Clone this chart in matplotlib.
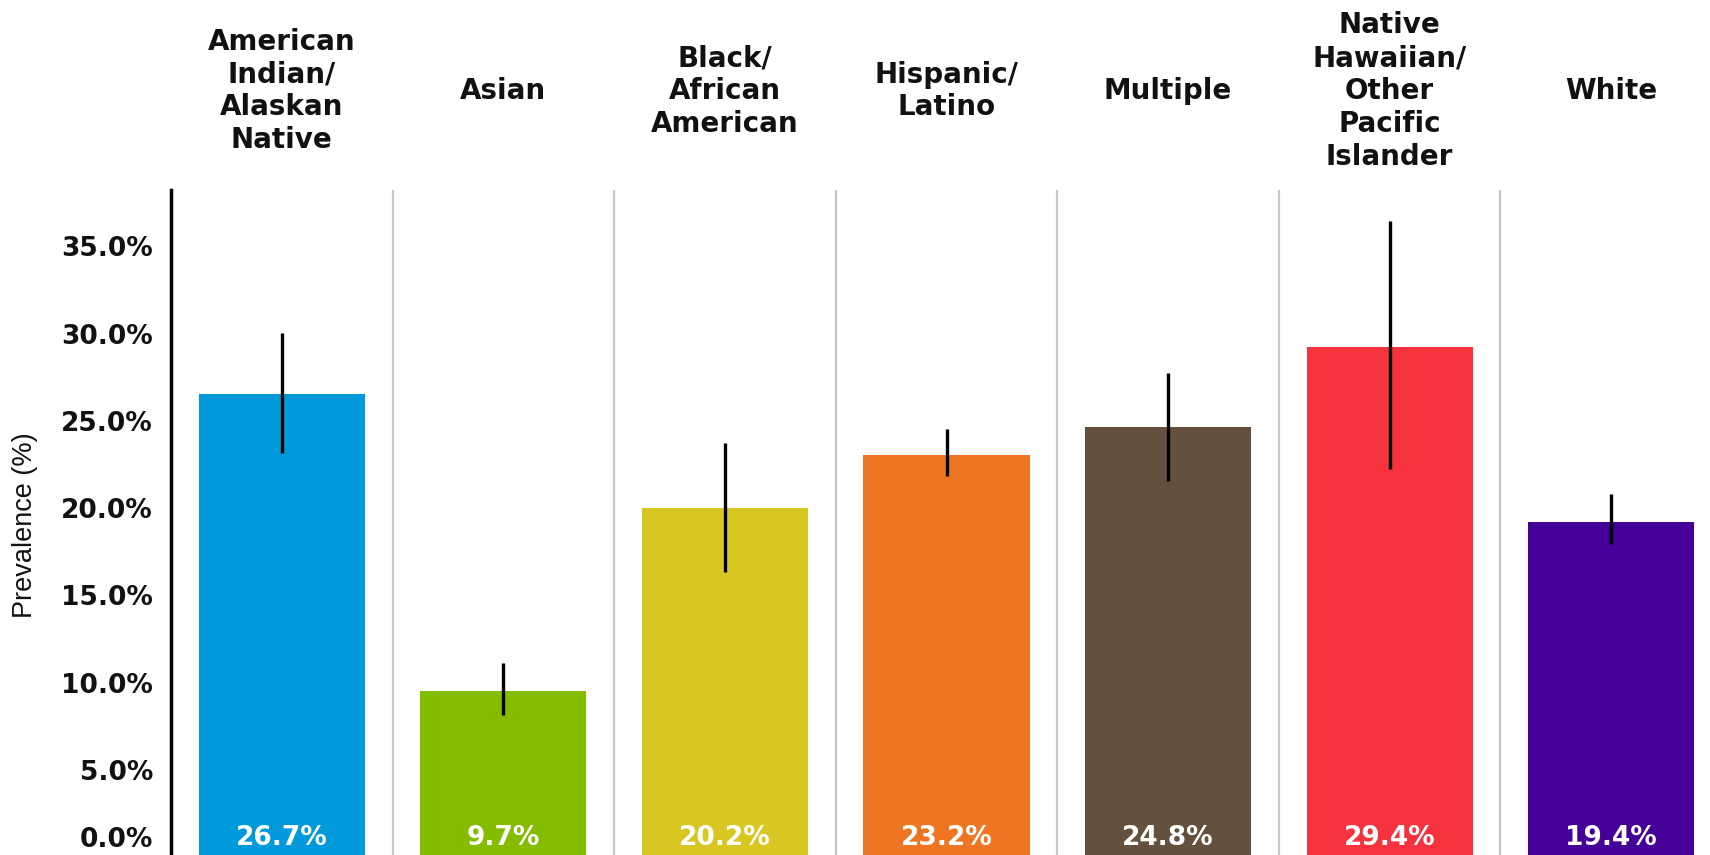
import matplotlib
matplotlib.use("Agg")
import matplotlib.pyplot as plt
import matplotlib.transforms as mtransforms
from matplotlib import font_manager
import numpy as np

# Prevalence by race/ethnicity with 95% confidence intervals
categories = [
    "American\nIndian/\nAlaskan\nNative",
    "Asian",
    "Black/\nAfrican\nAmerican",
    "Hispanic/\nLatino",
    "Multiple",
    "Native\nHawaiian/\nOther\nPacific\nIslander",
    "White",
]
prevalence = [26.7, 9.7, 20.2, 23.2, 24.8, 29.4, 19.4]
ci_low = [23.3, 8.3, 16.5, 22.0, 21.7, 22.4, 18.1]
ci_high = [30.2, 11.3, 23.9, 24.7, 27.9, 36.6, 21.0]
colors = ["#009ADB", "#84BC00", "#D8C722", "#EE7623", "#63503D", "#F5333F", "#440099"]
y_ticks = [0, 5, 10, 15, 20, 25, 30, 35]
y_tick_labels = ["0.0%", "5.0%", "10.0%", "15.0%", "20.0%", "25.0%", "30.0%", "35.0%"]

W, H, DPI = 1710, 855, 100
fig = plt.figure(figsize=(W / DPI, H / DPI), dpi=DPI)
fig.patch.set_facecolor("white")

# plot area: left edge at the axis line, runs slightly past the right/bottom edges
left_px, top_px, right_px, bottom_px = 171, 190, 1722, 860
ax = fig.add_axes([left_px / W, 1 - bottom_px / H,
                   (right_px - left_px) / W, (bottom_px - top_px) / H])
ax.set_xlim(-0.5, len(categories) - 0.5)
ax.set_ylim(0, 38.4)

x = np.arange(len(categories))
vals = np.array(prevalence)
lo = np.array(ci_low)
hi = np.array(ci_high)

# category separators
for i in range(1, len(categories)):
    ax.axvline(i - 0.5, color="#C8C8C8", lw=1.6, zorder=0)

ax.bar(x, vals, width=0.75, color=colors, zorder=2)
ax.errorbar(x, vals, yerr=[vals - lo, hi - vals], fmt="none",
            ecolor="black", elinewidth=2.4, capsize=0, zorder=3)

# spines / ticks
for s in ["top", "right", "bottom"]:
    ax.spines[s].set_visible(False)
ax.spines["left"].set_color("black")
ax.spines["left"].set_linewidth(2.5)
ax.set_xticks([])
ax.set_yticks([])

font = "DejaVu Sans"

# y tick labels (the zero label is lifted to stay inside the figure)
for v, lab in zip(y_ticks, y_tick_labels):
    dy = 20 / DPI if v == 0 else 0
    tr = ax.get_yaxis_transform() + mtransforms.ScaledTranslation(-18 / DPI, dy, fig.dpi_scale_trans)
    ax.text(0, v, lab, transform=tr, ha="right", va="center",
            fontsize=19, fontweight="bold", family=font, color="#111111")

# value labels inside the bars, near the bottom
val_tr = ax.transData + mtransforms.ScaledTranslation(0, 22 / DPI, fig.dpi_scale_trans)
for xi, v in zip(x, prevalence):
    ax.text(xi, 0, f"{v:.1f}%", transform=val_tr, ha="center", va="center",
            fontsize=19, fontweight="bold", family=font, color="white", zorder=4)

# category headers above the plot
head_tr = mtransforms.blended_transform_factory(ax.transData, fig.transFigure)
for xi, cat in zip(x, categories):
    ax.text(xi, 1 - 91 / H, cat, transform=head_tr, ha="center", va="center",
            multialignment="center", fontsize=20, fontweight="bold",
            family=font, color="#111111", linespacing=1.22, clip_on=False)

# narrow face for the axis title if present
names = {f.name for f in font_manager.fontManager.ttflist}
if "Liberation Sans Narrow" in names:
    ylab_family, ylab_size = ["Liberation Sans Narrow", "DejaVu Sans"], 23
else:
    ylab_family, ylab_size = ["Liberation Sans", "DejaVu Sans"], 19.5

fig.text(25 / W, 1 - 525 / H, "Prevalence (%)", rotation=90, ha="center", va="center",
         fontsize=ylab_size, family=ylab_family, color="#111111")

fig.savefig("out.png", dpi=DPI, facecolor="white")
